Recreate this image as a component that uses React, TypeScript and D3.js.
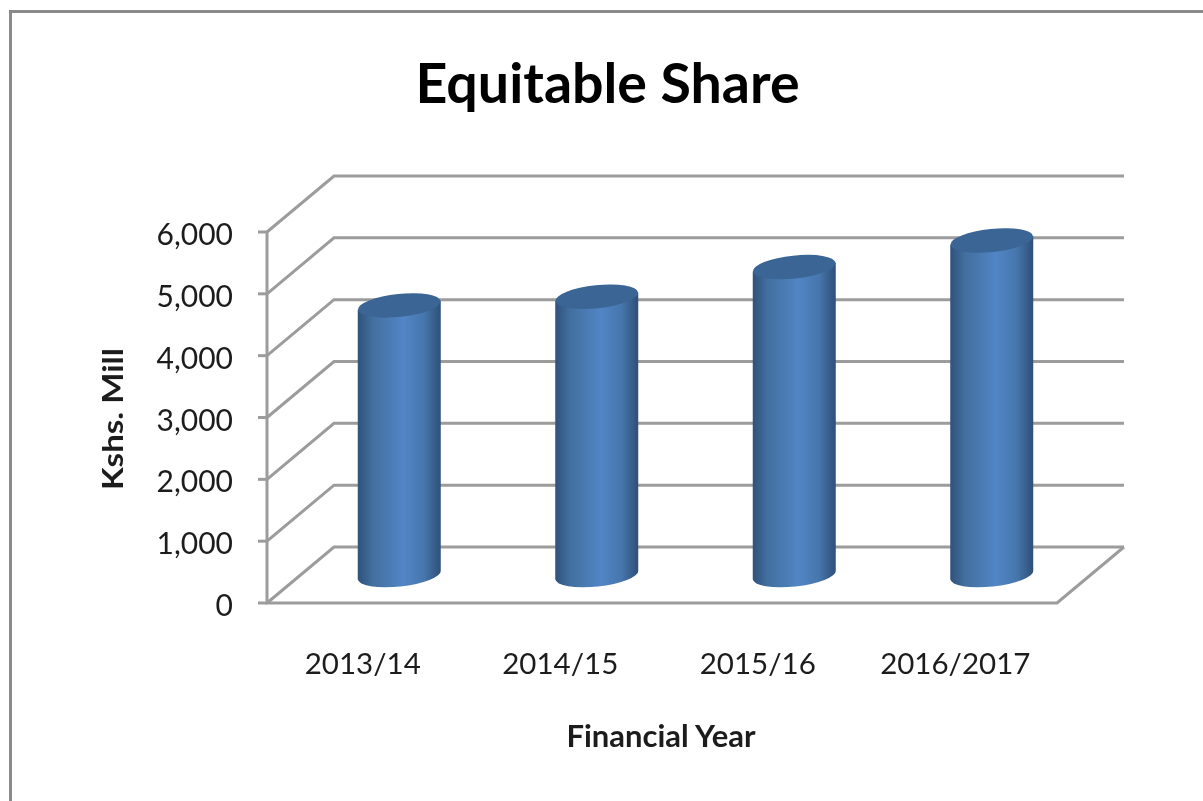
import React from "react";
import * as d3 from "d3";

const years = ["2013/14", "2014/15", "2015/16", "2016/2017"];
const shares = [4360, 4500, 4980, 5410];
const ticks = [0, 1000, 2000, 3000, 4000, 5000, 6000];

const W = 1203;
const H = 801;
// front plane of the 3d box, the back wall is shifted by depth
const front = { left: 267, right: 1057, top: 232, bottom: 603 };
const depth = { x: 67, y: -56 };
const barW = 83;
const ry = 11.5;
const tilt = -6;

const x = d3.scaleBand<string>().domain(years).range([front.left, front.right]);
const y = d3.scaleLinear().domain([0, 6000]).range([front.bottom, front.top]);
const fmt = d3.format(",");
const font = "Lato, sans-serif";
const gridColor = "#9c9c9c";
const textColor = "#1c1c1c";

function cylinderBody(cx: number, base: number, top: number) {
  const rx = barW / 2;
  const dy = rx * Math.tan((tilt * Math.PI) / 180);
  // left side runs lower than right side because the ellipses are tilted
  return `M${cx - rx},${top - dy} L${cx + rx},${top + dy} L${cx + rx},${base + dy}
    A${rx},${ry} ${tilt} 0 1 ${cx - rx},${base - dy} Z`;
}

export default function App() {
  const gridPath = d3.path();
  ticks.forEach((t) => {
    gridPath.moveTo(front.left, y(t));
    gridPath.lineTo(front.left + depth.x, y(t) + depth.y);
    gridPath.lineTo(front.right + depth.x, y(t) + depth.y);
  });

  return (
    <svg
      width={W}
      height={H}
      style={{ position: "absolute", left: 0, top: 0, background: "#fff" }}
    >
      <defs>
        <linearGradient id="cyl" x1="0" x2="1" y1="0" y2="0">
          <stop offset="0" stopColor="#30527c" />
          <stop offset="0.18" stopColor="#426f9f" />
          <stop offset="0.55" stopColor="#5285c5" />
          <stop offset="0.8" stopColor="#4676ad" />
          <stop offset="1" stopColor="#2f4f77" />
        </linearGradient>
        <filter id="soft" x="-5%" y="-5%" width="110%" height="110%">
          <feGaussianBlur stdDeviation="0.6" />
        </filter>
        <filter id="softText" x="-5%" y="-5%" width="110%" height="110%">
          <feGaussianBlur stdDeviation="0.4" />
        </filter>
      </defs>

      <path d="M10.5,801 V11.5 H1203" fill="none" stroke="#8a8a8a" strokeWidth={3} />

      <g filter="url(#softText)">
        <text x={607.5} y={103} textAnchor="middle" fontFamily={font} fontWeight={700} fontSize={55.5} fill="#000">
          Equitable Share
        </text>
      </g>

      <g filter="url(#soft)">
        <path d={gridPath.toString()} fill="none" stroke={gridColor} strokeWidth={3} />
        <path
          d={`M${front.left},${front.top} V${front.bottom} H${front.right} L${front.right + depth.x},${front.bottom + depth.y}`}
          fill="none"
          stroke={gridColor}
          strokeWidth={3}
        />
        {ticks.map((t) => (
          <line key={t} x1={front.left - 9} x2={front.left} y1={y(t)} y2={y(t)} stroke={gridColor} strokeWidth={3} />
        ))}
      </g>

      <g filter="url(#softText)">
        {ticks.map((t) => (
          <text key={t} x={233} y={y(t) + 13} textAnchor="end" fontFamily={font} fontSize={30} fill={textColor}>
            {fmt(t)}
          </text>
        ))}
      </g>

      <g filter="url(#soft)">
        {years.map((yr, i) => {
          const cx = x(yr)! + x.bandwidth() / 2 + depth.x / 2;
          const base = y(0) + depth.y / 2;
          const top = y(shares[i]) + depth.y / 2;
          return (
            <g key={yr}>
              <path d={cylinderBody(cx, base, top)} fill="url(#cyl)" />
              <ellipse
                cx={cx}
                cy={top}
                rx={barW / 2}
                ry={ry}
                transform={`rotate(${tilt} ${cx} ${top})`}
                fill="#3a6595"
              />
            </g>
          );
        })}
      </g>

      <g filter="url(#softText)">
        {years.map((yr) => (
          <text
            key={yr}
            x={x(yr)! + x.bandwidth() / 2 - 3}
            y={673.5}
            textAnchor="middle"
            fontFamily={font}
            fontSize={29.5}
            fill={textColor}
          >
            {yr}
          </text>
        ))}

        <text x={661} y={747} textAnchor="middle" fontFamily={font} fontWeight={700} fontSize={31} fill={textColor}>
          Financial Year
        </text>
        <text
          transform="translate(123,419) rotate(-90)"
          textAnchor="middle"
          fontFamily={font}
          fontWeight={700}
          fontSize={29}
          textLength={142}
          lengthAdjust="spacingAndGlyphs"
          fill={textColor}
        >
          Kshs. Mill
        </text>
      </g>
    </svg>
  );
}
